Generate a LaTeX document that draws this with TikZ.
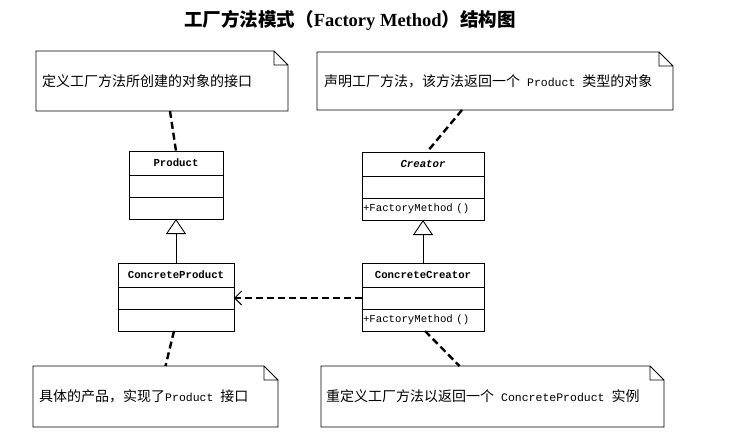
\documentclass[tikz,border=0pt]{standalone}
\usepackage{fontspec}
\setmainfont{Liberation Serif}
\setmonofont{Liberation Mono}
\newfontfamily\cjk{Noto Sans CJK SC}
\usetikzlibrary{arrows.meta,positioning}
\newcommand{\mono}[1]{{\ttfamily\fontsize{11.5}{14}\selectfont #1}}
\tikzset{
  cname/.style={draw, line width=0.9pt, outer sep=0pt, minimum height=24pt,
    font=\ttfamily\bfseries\fontsize{10.7}{12}\selectfont},
  compart/.style={draw, line width=0.9pt, outer sep=0pt, minimum height=22pt,
    inner xsep=1pt, inner ysep=0pt, font=\ttfamily\fontsize{10.7}{12}\selectfont},
  notebox/.style={outer sep=0pt},
  notetext/.style={inner sep=0pt, anchor=west, font=\cjk\fontsize{14}{16}\selectfont},
  notelink/.style={line width=2.4pt, dash pattern=on 7pt off 4pt},
  inherit/.style={line width=0.9pt, -{Triangle[open, length=15pt, width=20pt, line width=0.9pt]}},
  depend/.style={line width=2.4pt, dash pattern=on 7pt off 4pt,
    -{Straight Barb[length=7pt, width=14pt, line width=0.9pt]}}
}
\begin{document}
\begin{tikzpicture}[x=1pt, y=-1pt]
\useasboundingbox (0,0) rectangle (735,445);
\node[font=\fontsize{18.5}{20}\selectfont] (title) at (350,20)
  {{\cjk\bfseries 工厂方法模式（}\textbf{Factory Method}{\cjk\bfseries ）结构图}};

% classes
\node[cname, minimum width=94pt] (P) at (176,163) {Product};
\node[compart, text width=92pt, below=0pt of P] (Pa) {};
\node[compart, text width=92pt, below=0pt of Pa] (Po) {};
\node[cname, minimum width=116pt] (CP) at (176,275) {ConcreteProduct};
\node[compart, text width=114pt, below=0pt of CP] (CPa) {};
\node[compart, text width=114pt, below=0pt of CPa] (CPo) {};
\node[cname, minimum width=122pt] (C) at (423,164) {\itshape Creator};
\node[compart, text width=120pt, below=0pt of C] (Ca) {};
\node[compart, text width=120pt, below=0pt of Ca] (Co) {+FactoryMethod ()};
\node[cname, minimum width=122pt] (CC) at (423,275) {ConcreteCreator};
\node[compart, text width=120pt, below=0pt of CC] (CCa) {};
\node[compart, text width=120pt, below=0pt of CCa] (CCo) {+FactoryMethod ()};

% notes
\node[notebox, minimum width=252pt, minimum height=60pt] (n1) at (162,81) {};
\node[notebox, minimum width=356pt, minimum height=58pt] (n2) at (495,81) {};
\node[notebox, minimum width=245pt, minimum height=61pt] (n3) at (155.5,396.5) {};
\node[notebox, minimum width=343pt, minimum height=61pt] (n4) at (492.5,396.5) {};
\foreach \n in {n1,n2,n3,n4}
  \draw[line width=0.9pt] (\n.north west) -- ([xshift=-14pt]\n.north east)
    -- ([yshift=-14pt]\n.north east) -- (\n.south east) -- (\n.south west) -- cycle
    ([xshift=-14pt]\n.north east) |- ([yshift=-14pt]\n.north east);
\node[notetext] (t1) at ([xshift=6pt]n1.west) {定义工厂方法所创建的对象的接口};
\node[notetext] (t2) at ([xshift=7pt]n2.west) {声明工厂方法，该方法返回一个\mono{ Product }类型的对象};
\node[notetext] (t3) at ([xshift=6pt]n3.west) {具体的产品，实现了\mono{Product }接口};
\node[notetext] (t4) at ([xshift=5pt]n4.west) {重定义工厂方法以返回一个\mono{ ConcreteProduct }实例};

% connectors
\draw[notelink] ([xshift=8pt]n1.south) -- (P.north);
\draw[notelink] ([xshift=-33pt]n2.south) -- ([xshift=4pt]C.north);
\draw[notelink] ([xshift=-2pt]CPo.south) -- ([xshift=10pt]n3.north);
\draw[notelink] ([xshift=2pt]CCo.south) -- ([xshift=-33pt]n4.north);
\draw[inherit] (CP.north) -- (Po.south);
\draw[inherit] (CC.north) -- (Co.south);
\draw[depend] (CCa.west) -- (CPa.east);
\end{tikzpicture}
\end{document}
